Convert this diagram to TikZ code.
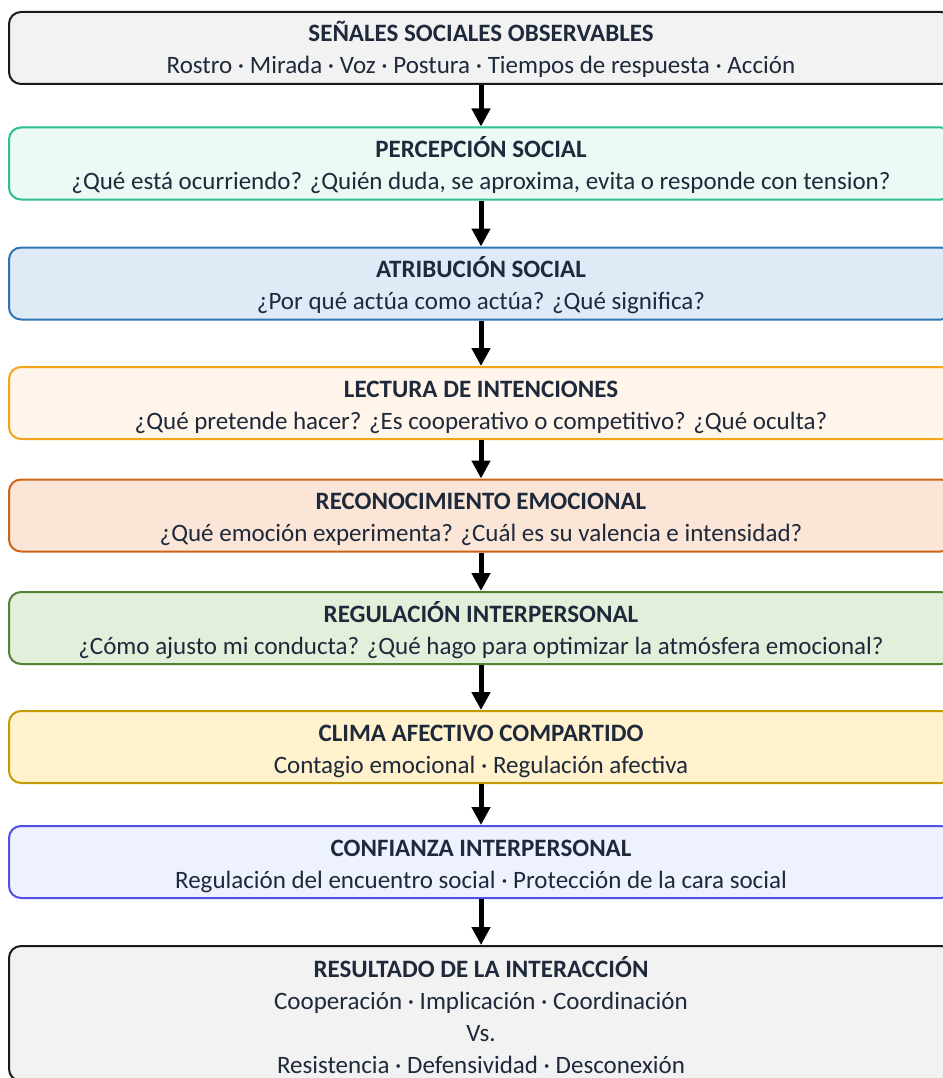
\documentclass[tikz,border=0pt]{standalone}
\usepackage{fontspec}
\setmainfont{Carlito}
\usetikzlibrary{arrows.meta}

\definecolor{textoosc}{HTML}{1E293B}
\definecolor{grisborde}{HTML}{1A1A1A}
\definecolor{grisfondo}{HTML}{F2F2F2}
\definecolor{verdeborde}{HTML}{2CC08C}
\definecolor{verdefondo}{HTML}{EBFAF4}
\definecolor{azulborde}{HTML}{2E75B6}
\definecolor{azulfondo}{HTML}{DEEAF6}
\definecolor{naranjaborde}{HTML}{F5A31A}
\definecolor{naranjafondo}{HTML}{FFF5EB}
\definecolor{terraborde}{HTML}{CC6418}
\definecolor{terrafondo}{HTML}{FBE5D6}
\definecolor{olivoborde}{HTML}{548235}
\definecolor{olivofondo}{HTML}{E2EFDA}
\definecolor{oroborde}{HTML}{C49A00}
\definecolor{orofondo}{HTML}{FFF2CC}
\definecolor{violetaborde}{HTML}{5050E6}
\definecolor{violetafondo}{HTML}{EEF2FE}

\tikzset{
  etapa/.style={draw, rounded corners=12pt, line width=2pt,
    minimum width=944pt, minimum height=72pt, align=center,
    inner ysep=0pt, text height=52pt, text depth=0pt,
    text=textoosc, font=\fontsize{25}{32}\selectfont},
  flecha/.style={line width=5pt, -{Triangle[width=18pt,length=18pt]}}
}

\begin{document}
\begin{tikzpicture}[x=1pt, y=-1pt]

\useasboundingbox (0,0) rectangle (942,1078);

% Etapas del proceso
\node[etapa, fill=grisfondo, draw=grisborde] (senales) at (481,48)
  {\textbf{SEÑALES SOCIALES OBSERVABLES}\\Rostro · Mirada · Voz · Postura · Tiempos de respuesta · Acción};
\node[etapa, fill=verdefondo, draw=verdeborde] (percepcion) at (481,163.5)
  {\textbf{PERCEPCIÓN SOCIAL}\\¿Qué está ocurriendo? ¿Quién duda, se aproxima, evita o responde con tension?};
\node[etapa, fill=azulfondo, draw=azulborde] (atribucion) at (481,283.5)
  {\textbf{ATRIBUCIÓN SOCIAL}\\¿Por qué actúa como actúa? ¿Qué significa?};
\node[etapa, fill=naranjafondo, draw=naranjaborde] (intenciones) at (481,403)
  {\textbf{LECTURA DE INTENCIONES}\\¿Qué pretende hacer? ¿Es cooperativo o competitivo? ¿Qué oculta?};
\node[etapa, fill=terrafondo, draw=terraborde] (emocional) at (481,515.5)
  {\textbf{RECONOCIMIENTO EMOCIONAL}\\¿Qué emoción experimenta? ¿Cuál es su valencia e intensidad?};
\node[etapa, fill=olivofondo, draw=olivoborde] (regulacion) at (481,628)
  {\textbf{REGULACIÓN INTERPERSONAL}\\¿Cómo ajusto mi conducta? ¿Qué hago para optimizar la atmósfera emocional?};
\node[etapa, fill=orofondo, draw=oroborde] (clima) at (481,747)
  {\textbf{CLIMA AFECTIVO COMPARTIDO}\\Contagio emocional · Regulación afectiva};
\node[etapa, fill=violetafondo, draw=violetaborde] (confianza) at (481,862)
  {\textbf{CONFIANZA INTERPERSONAL}\\Regulación del encuentro social · Protección de la cara social};
\node[etapa, fill=grisfondo, draw=grisborde, minimum height=135pt, text height=120pt] (resultado) at (481,1013.5)
  {\textbf{RESULTADO DE LA INTERACCIÓN}\\Cooperación · Implicación · Coordinación\\Vs.\\Resistencia · Defensividad · Desconexión};

% Flechas entre etapas
\draw[flecha] (senales.south) -- (percepcion.north);
\draw[flecha] (percepcion.south) -- (atribucion.north);
\draw[flecha] (atribucion.south) -- (intenciones.north);
\draw[flecha] (intenciones.south) -- (emocional.north);
\draw[flecha] (emocional.south) -- (regulacion.north);
\draw[flecha] (regulacion.south) -- (clima.north);
\draw[flecha] (clima.south) -- (confianza.north);
\draw[flecha] (confianza.south) -- (resultado.north);

\end{tikzpicture}
\end{document}
